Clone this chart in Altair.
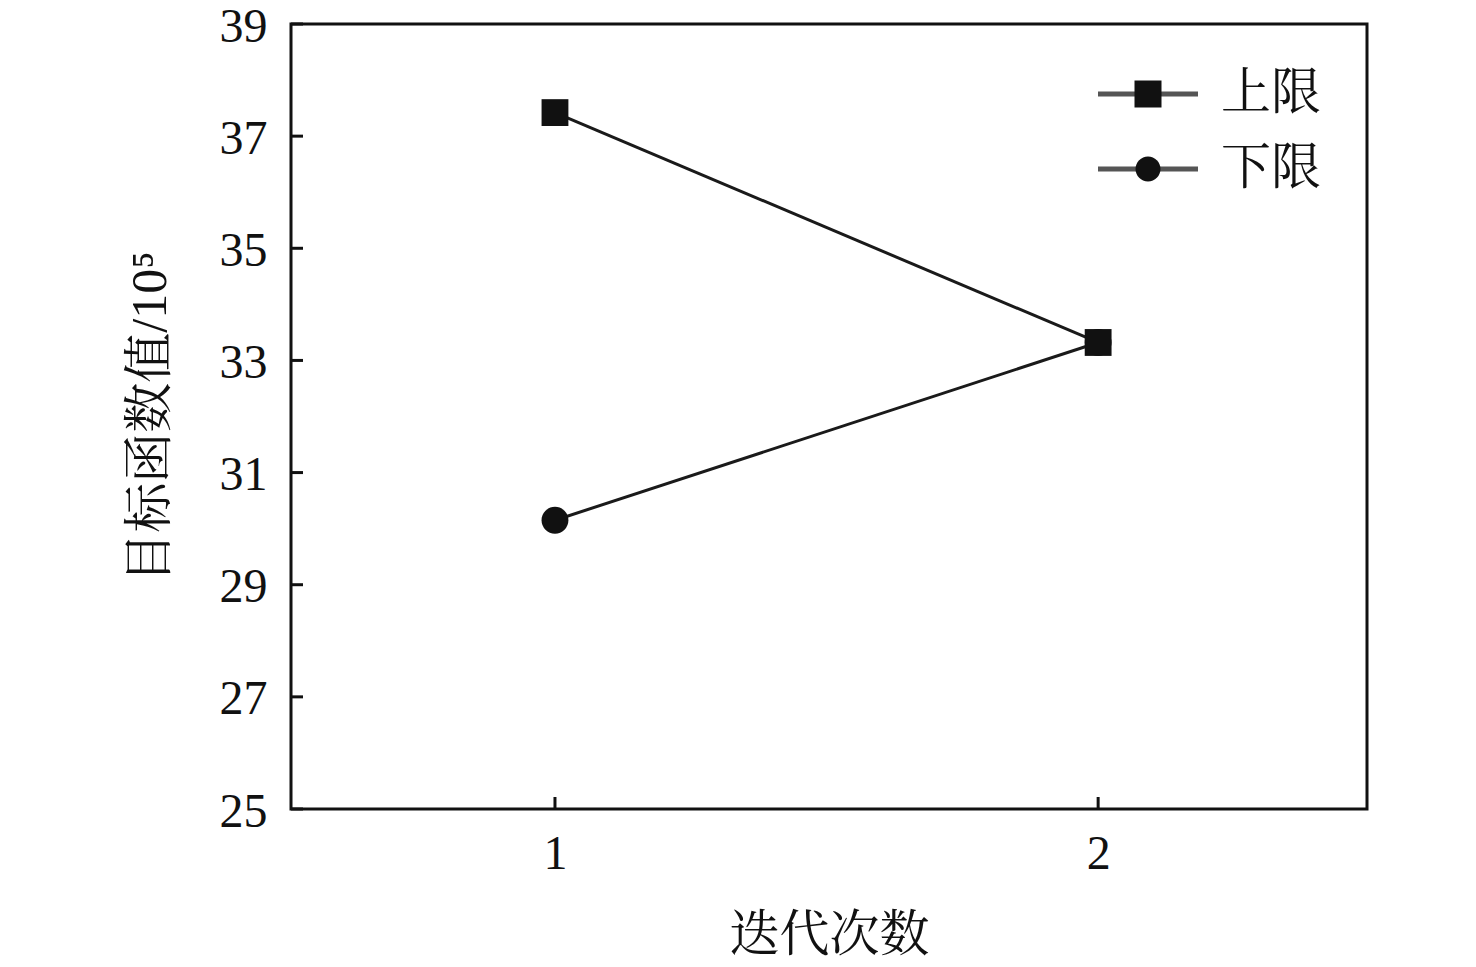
import altair as alt
import pandas as pd

series_names = ["上限", "下限"]
iterations = [1, 2]
upper_values = [37.42, 33.32]
lower_values = [30.15, 33.32]
y_ticks = [25, 27, 29, 31, 33, 35, 37, 39]
x_ticks = [1, 2]

SERIF = "Liberation Serif, Noto Serif CJK SC, Noto Sans CJK SC, serif"
INK = "#111111"

rows = []
for xi, v in zip(iterations, lower_values):
    rows.append({"series": series_names[1], "x": xi, "value": v})
for xi, v in zip(iterations, upper_values):
    rows.append({"series": series_names[0], "x": xi, "value": v})
df = pd.DataFrame(rows)

xscale = alt.Scale(domain=[0.514, 2.495], nice=False, zero=False)
yscale = alt.Scale(domain=[25, 39], nice=False, zero=False)

xaxis = alt.Axis(values=x_ticks, title="迭代次数", domain=False, ticks=False, grid=False,
                 labelFont=SERIF, labelFontSize=48, labelColor=INK, labelPadding=21,
                 titleFont=SERIF, titleFontSize=50, titleColor=INK, titleFontWeight="normal",
                 titlePadding=32, format="d")
yaxis = alt.Axis(values=y_ticks, title="目标函数值/10⁵", domain=False, ticks=False, grid=False,
                 labelFont=SERIF, labelFontSize=48, labelColor=INK, labelPadding=24,
                 labelOffset=3,
                 titleFont=SERIF, titleFontSize=50, titleColor=INK, titleFontWeight="normal",
                 titlePadding=44, format="d")

X = alt.X("x:Q", scale=xscale, axis=xaxis)
Y = alt.Y("value:Q", scale=yscale, axis=yaxis)

base = alt.Chart(df)

lines = base.mark_line(color="#1a1a1a", strokeWidth=3).encode(
    x=X, y=Y, detail="series:N", order="x:Q")

points = base.mark_point(filled=True, color=INK, opacity=1, size=720).encode(
    x=X, y=Y,
    shape=alt.Shape("series:N", scale=alt.Scale(domain=series_names, range=["square", "circle"]), legend=None),
)

line_path = "M-2,-0.1H2V0.1H-2Z"
sq_path = "M-0.54,-0.54H0.54V0.54H-0.54Z"
ci_path = "M-0.5,0A0.5,0.5 0 1,0 0.5,0A0.5,0.5 0 1,0 -0.5,0Z"

legend_common = dict(orient="none", legendX=832, legendY=45, title=None, padding=0,
                     symbolSize=2500, labelOffset=48, labelFont=SERIF, labelFontSize=50,
                     rowPadding=25, symbolOpacity=1, symbolStrokeWidth=0, labelBaseline="middle")

leg_lines = base.mark_point(filled=True, opacity=0, color="#555555").encode(
    x=X, y=Y,
    shape=alt.Shape("series:N", scale=alt.Scale(domain=series_names, range=[line_path, line_path + " "]),
                    legend=alt.Legend(symbolFillColor="#555555", labelColor="transparent", **legend_common)),
)
leg_marks = base.mark_point(filled=True, opacity=0, color=INK).encode(
    x=X, y=Y,
    shape=alt.Shape("series:N", scale=alt.Scale(domain=series_names, range=[sq_path, ci_path]),
                    legend=alt.Legend(symbolFillColor=INK, labelColor=INK, **legend_common)),
)

ytick_df = pd.DataFrame({"value": y_ticks})
xtick_df = pd.DataFrame({"x": x_ticks})
yt = alt.Chart(ytick_df).mark_rule(color=INK, strokeWidth=3).encode(
    y=Y, x=alt.value(0), x2=alt.value(12))
xt = alt.Chart(xtick_df).mark_rule(color=INK, strokeWidth=3).encode(
    x=X, y=alt.value(785), y2=alt.value(773))

chart = alt.layer(yt, xt, lines, points, leg_lines, leg_marks).resolve_scale(
    shape="independent"
).properties(
    width=1076, height=785,
    background="white",
    autosize=alt.AutoSizeParams(type="none"),
    padding={"left": 283, "top": 16, "right": 100, "bottom": 160},
).configure_view(stroke=INK, strokeWidth=3)

chart.save("out.html", embed_options={"renderer": "svg", "actions": False})
